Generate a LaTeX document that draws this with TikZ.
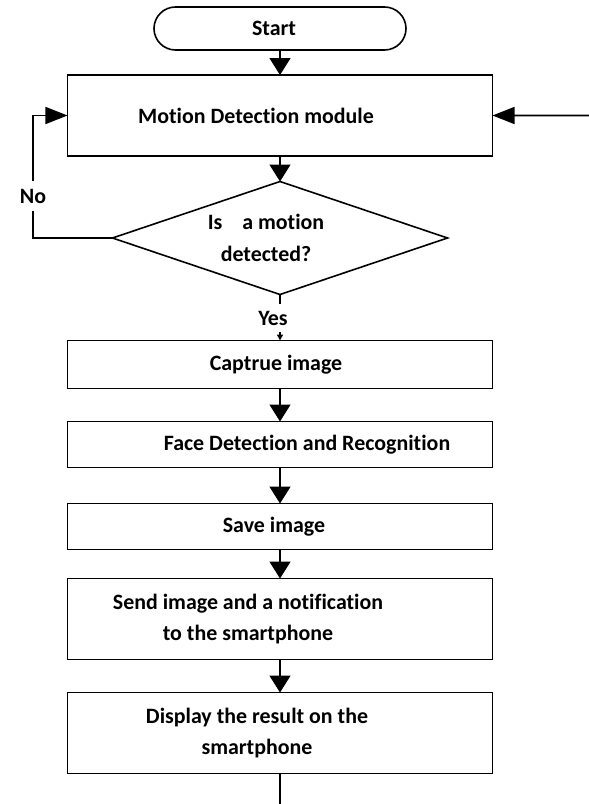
\documentclass[tikz,border=0pt]{standalone}
\usepackage{fontspec}
\setmainfont{Carlito}[Ligatures=NoCommon]
\usetikzlibrary{arrows.meta,shapes.geometric,positioning}
\tikzset{x=1bp, y=-1bp, % one unit is one pixel, y runs down
every node/.style={outer sep=0pt}, % connectors touch the borders
proc/.style={draw, rectangle, minimum width=425bp, inner sep=0pt}, % the process boxes
term/.style={draw, rectangle, rounded corners=21.5bp, minimum width=252bp, minimum height=43bp, inner sep=0pt}, % start box
decision/.style={draw, diamond, minimum width=335bp, minimum height=113bp, inner sep=0pt}, % the question
txt/.style={font=\fontsize{22}{32}\selectfont\bfseries, align=center, inner sep=0pt}, % all texts
flow/.style={-{Triangle[length=17bp,width=21bp]}}, % downward arrows
side/.style={-{Triangle[length=22bp,width=17bp]}}, % arrows into the side of a box
small/.style={-{Triangle[length=6bp,width=6bp]}}, % the little one under Yes
}

\begin{document}
\begin{tikzpicture}[line width=1.6bp]
\useasboundingbox (0,0) rectangle (589,804);
\node[term] (start) at (280,28.5) {};
\node[proc, minimum height=81bp, below=25bp of start] (md) {};
\node[decision, below=25.5bp of md] (ask) {};
\node[proc, minimum height=48bp, below=46bp of ask] (cap) {};
\node[proc, minimum height=46bp, below=33bp of cap] (face) {};
\node[proc, minimum height=46bp, below=36bp of face] (save) {};
\node[proc, minimum height=81bp, below=29bp of save] (send) {};
\node[proc, minimum height=81bp, below=33bp of send] (disp) {};
\coordinate (back) at (589,115.5);
\coordinate (out) at (280,804);
% texts
\node[txt] (starttxt) at ([xshift=-6bp]start) {Start};
\node[txt] (mdtxt) at ([xshift=-24bp]md) {Motion Detection module};
\node[txt] (asktxt) at ([xshift=-14bp]ask) {Is \ \ \ a motion\\detected?};
\node[txt] (captxt) at ([xshift=-4bp]cap) {Captrue image};
\node[txt] (facetxt) at ([xshift=27bp]face) {Face Detection and Recognition};
\node[txt] (savetxt) at ([xshift=-6bp]save) {Save image};
\node[txt] (sendtxt) at ([xshift=-32bp]send) {Send image and a notification\\to the smartphone};
\node[txt] (disptxt) at ([xshift=-23bp]disp) {Display the result on the\\smartphone};
\node[txt, inner ysep=7bp] (yes) at (273,318) {Yes};
\node[txt, inner ysep=8bp] (no) at (33,196) {No};
% connectors
\draw[flow] (start) -- (md);
\draw[flow] (md) -- (ask);
\draw (ask.south) -- (ask.south |- yes.north);
\draw[small] (cap.north |- yes.south) -- (cap.north);
\draw[flow] (cap) -- (face);
\draw[flow] (face) -- (save);
\draw[flow] (save) -- (send);
\draw[flow] (send) -- (disp);
\draw (disp) -- (out);
\draw (ask.west) -| (no.south);
\draw[side] (no.north) |- (md.west);
\draw[side] (back) -- (md.east);
\end{tikzpicture}
\end{document}
